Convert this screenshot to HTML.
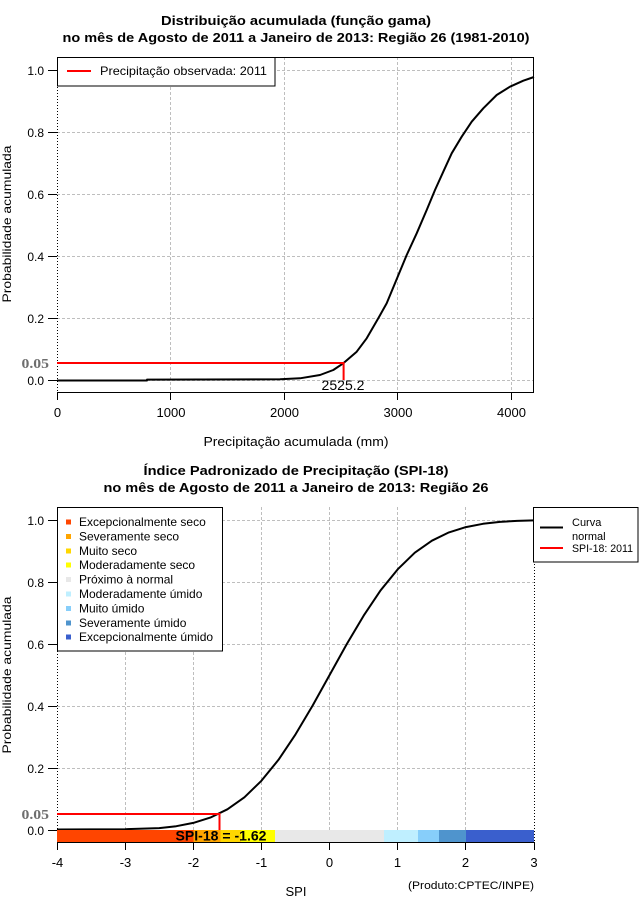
<!DOCTYPE html>
<html><head><meta charset="utf-8"><style>
html,body{margin:0;padding:0;background:#fff;}
svg{display:block;}
text{font-family:"Liberation Sans",sans-serif;fill:#000;}
</style></head><body>
<svg width="640" height="900" viewBox="0 0 640 900" xmlns="http://www.w3.org/2000/svg">
<rect x="0" y="0" width="640" height="900" fill="#fff"/>

<!-- ===== TOP CHART ===== -->
<text x="296" y="25" font-size="13" font-weight="bold" text-anchor="middle" textLength="270" lengthAdjust="spacingAndGlyphs">Distribuição acumulada (função gama)</text>
<text x="296" y="42" font-size="13" font-weight="bold" text-anchor="middle" textLength="467" lengthAdjust="spacingAndGlyphs">no mês de Agosto de 2011 a Janeiro de 2013: Região 26 (1981-2010)</text>

<g stroke="#bebebe" stroke-width="1" stroke-dasharray="3,2" shape-rendering="crispEdges" fill="none">
  <line x1="57" y1="70.5" x2="534" y2="70.5"/>
  <line x1="57" y1="132.5" x2="534" y2="132.5"/>
  <line x1="57" y1="194.5" x2="534" y2="194.5"/>
  <line x1="57" y1="256.5" x2="534" y2="256.5"/>
  <line x1="57" y1="318.5" x2="534" y2="318.5"/>
  <line x1="57" y1="380.5" x2="534" y2="380.5"/>
  <line x1="170.5" y1="57" x2="170.5" y2="392"/>
  <line x1="284.5" y1="57" x2="284.5" y2="392"/>
  <line x1="397.5" y1="57" x2="397.5" y2="392"/>
  <line x1="511.5" y1="57" x2="511.5" y2="392"/>
</g>
<line x1="57.5" y1="57" x2="57.5" y2="392" stroke="#000" stroke-width="1" stroke-dasharray="1,2" shape-rendering="crispEdges"/>
<g stroke="#000" stroke-width="1" shape-rendering="crispEdges" fill="none">
  <line x1="57" y1="57.5" x2="534" y2="57.5"/>
  <line x1="533.5" y1="57" x2="533.5" y2="392"/>
  <line x1="57" y1="392.5" x2="534" y2="392.5"/>
  <line x1="57.5" y1="392" x2="57.5" y2="400"/>
  <line x1="170.5" y1="392" x2="170.5" y2="400"/>
  <line x1="284.5" y1="392" x2="284.5" y2="400"/>
  <line x1="397.5" y1="392" x2="397.5" y2="400"/>
  <line x1="511.5" y1="392" x2="511.5" y2="400"/>
  <line x1="48" y1="70.5" x2="57" y2="70.5"/>
  <line x1="48" y1="132.5" x2="57" y2="132.5"/>
  <line x1="48" y1="194.5" x2="57" y2="194.5"/>
  <line x1="48" y1="256.5" x2="57" y2="256.5"/>
  <line x1="48" y1="318.5" x2="57" y2="318.5"/>
  <line x1="48" y1="380.5" x2="57" y2="380.5"/>
</g>
<g font-size="12" text-anchor="end">
  <text x="44" y="75">1.0</text>
  <text x="44" y="137">0.8</text>
  <text x="44" y="199">0.6</text>
  <text x="44" y="261">0.4</text>
  <text x="44" y="323">0.2</text>
  <text x="44" y="385">0.0</text>
</g>
<g font-size="13" text-anchor="middle">
  <text x="57.5" y="417">0</text>
  <text x="171" y="417">1000</text>
  <text x="284.5" y="417">2000</text>
  <text x="398" y="417">3000</text>
  <text x="511.5" y="417">4000</text>
</g>
<text x="296" y="446" font-size="13" text-anchor="middle" textLength="185" lengthAdjust="spacingAndGlyphs">Precipitação acumulada (mm)</text>
<text transform="translate(11,224) rotate(-90)" font-size="12" text-anchor="middle" textLength="157" lengthAdjust="spacingAndGlyphs">Probabilidade acumulada</text>

<polyline fill="none" stroke="#000" stroke-width="2" stroke-linejoin="round" points="57,380.5 147,380.5 147,379.6 280,379.3 300,378.3 320,375 333.3,370 343.3,363.3 356.7,351.7 366.7,338.3 378.3,318.3 386.7,303.3 395,283.3 406.7,255 416.7,233.3 426.7,210 435,190 443.3,171.7 451.7,153.3 461.7,136.7 471.7,121.7 483.3,108.3 496.7,95 510,86.7 523.3,80.7 534,77"/>
<polyline fill="none" stroke="#ff0000" stroke-width="2" points="57,363 343.6,363 343.6,380"/>
<text x="21.5" y="368" font-family="Liberation Serif" font-size="14" font-weight="bold" fill="#6e6e6e" style="font-family:'Liberation Serif',serif;fill:#6e6e6e" textLength="27.5" lengthAdjust="spacingAndGlyphs">0.05</text>
<text x="343" y="390" font-size="14" text-anchor="middle" textLength="43" lengthAdjust="spacingAndGlyphs">2525.2</text>

<rect x="57.5" y="57.5" width="217.5" height="28.5" fill="#fff" stroke="#000" stroke-width="1" shape-rendering="crispEdges"/>
<line x1="67" y1="71" x2="91" y2="71" stroke="#ff0000" stroke-width="2"/>
<text x="100" y="75" font-size="12" textLength="167" lengthAdjust="spacingAndGlyphs">Precipitação observada: 2011</text>

<!-- ===== BOTTOM CHART ===== -->
<text x="296" y="475" font-size="13" font-weight="bold" text-anchor="middle" textLength="305" lengthAdjust="spacingAndGlyphs">Índice Padronizado de Precipitação (SPI-18)</text>
<text x="296" y="492" font-size="13" font-weight="bold" text-anchor="middle" textLength="385" lengthAdjust="spacingAndGlyphs">no mês de Agosto de 2011 a Janeiro de 2013: Região 26</text>

<g stroke="#bebebe" stroke-width="1" stroke-dasharray="3,2" shape-rendering="crispEdges" fill="none">
  <line x1="57" y1="520.5" x2="534" y2="520.5"/>
  <line x1="57" y1="582.5" x2="534" y2="582.5"/>
  <line x1="57" y1="644.5" x2="534" y2="644.5"/>
  <line x1="57" y1="706.5" x2="534" y2="706.5"/>
  <line x1="57" y1="768.5" x2="534" y2="768.5"/>
  <line x1="57" y1="830.5" x2="534" y2="830.5"/>
  <line x1="125.5" y1="507" x2="125.5" y2="842"/>
  <line x1="193.5" y1="507" x2="193.5" y2="842"/>
  <line x1="261.5" y1="507" x2="261.5" y2="842"/>
  <line x1="329.5" y1="507" x2="329.5" y2="842"/>
  <line x1="397.5" y1="507" x2="397.5" y2="842"/>
  <line x1="465.5" y1="507" x2="465.5" y2="842"/>
</g>
<g stroke="#000" stroke-width="1" stroke-dasharray="1,2" shape-rendering="crispEdges">
  <line x1="57.5" y1="507" x2="57.5" y2="842"/>
  <line x1="534.5" y1="507" x2="534.5" y2="842"/>
</g>

<polyline fill="none" stroke="#000" stroke-width="2" stroke-linejoin="round" points="57,829.5 91.1,829.4 125.1,829.2 159.2,828.1 176.3,826.2 193.3,822.9 210.3,817.6 227.4,809.3 244.4,797.3 261.4,780.8 278.5,759.8 295.5,734.4 312.6,705.6 329.6,675 346.6,644.4 363.7,615.6 380.7,590.2 397.8,569.2 414.8,552.7 431.9,540.7 448.9,532.4 465.9,527.1 483,523.8 500,521.9 517,520.9 534,520.4"/>

<g shape-rendering="crispEdges">
  <rect x="57" y="830" width="136.3" height="12" fill="#ff4500"/>
  <rect x="193.3" y="830" width="27.3" height="12" fill="#ffa500"/>
  <rect x="220.6" y="830" width="20.4" height="12" fill="#ffd700"/>
  <rect x="241" y="830" width="34" height="12" fill="#ffff00"/>
  <rect x="275" y="830" width="109" height="12" fill="#e8e8e8"/>
  <rect x="384" y="830" width="34" height="12" fill="#bfefff"/>
  <rect x="418" y="830" width="21" height="12" fill="#87cefa"/>
  <rect x="439" y="830" width="27" height="12" fill="#4f94cd"/>
  <rect x="466" y="830" width="68" height="12" fill="#3a5fcd"/>
</g>

<polyline fill="none" stroke="#ff0000" stroke-width="2" points="57,814 219.5,814 219.5,830"/>

<g stroke="#000" stroke-width="1" shape-rendering="crispEdges" fill="none">
  <line x1="57" y1="842.5" x2="535" y2="842.5"/>
  <line x1="57.5" y1="842" x2="57.5" y2="850"/>
  <line x1="125.5" y1="842" x2="125.5" y2="850"/>
  <line x1="193.5" y1="842" x2="193.5" y2="850"/>
  <line x1="261.5" y1="842" x2="261.5" y2="850"/>
  <line x1="329.5" y1="842" x2="329.5" y2="850"/>
  <line x1="397.5" y1="842" x2="397.5" y2="850"/>
  <line x1="465.5" y1="842" x2="465.5" y2="850"/>
  <line x1="534.5" y1="842" x2="534.5" y2="850"/>
  <line x1="48" y1="520.5" x2="57" y2="520.5"/>
  <line x1="48" y1="582.5" x2="57" y2="582.5"/>
  <line x1="48" y1="644.5" x2="57" y2="644.5"/>
  <line x1="48" y1="706.5" x2="57" y2="706.5"/>
  <line x1="48" y1="768.5" x2="57" y2="768.5"/>
  <line x1="48" y1="830.5" x2="57" y2="830.5"/>
</g>
<g font-size="12" text-anchor="end">
  <text x="44" y="525">1.0</text>
  <text x="44" y="587">0.8</text>
  <text x="44" y="649">0.6</text>
  <text x="44" y="711">0.4</text>
  <text x="44" y="773">0.2</text>
  <text x="44" y="835">0.0</text>
</g>
<g font-size="13" text-anchor="middle">
  <text x="57.5" y="867">-4</text>
  <text x="125.5" y="867">-3</text>
  <text x="193.5" y="867">-2</text>
  <text x="261.5" y="867">-1</text>
  <text x="329.5" y="867">0</text>
  <text x="397.5" y="867">1</text>
  <text x="465.5" y="867">2</text>
  <text x="534" y="867">3</text>
</g>
<text x="296" y="896" font-size="13" text-anchor="middle">SPI</text>
<text x="534" y="889" font-size="11" text-anchor="end" textLength="126" lengthAdjust="spacingAndGlyphs">(Produto:CPTEC/INPE)</text>
<text transform="translate(11,675) rotate(-90)" font-size="12" text-anchor="middle" textLength="157" lengthAdjust="spacingAndGlyphs">Probabilidade acumulada</text>

<text x="21.5" y="819" font-size="14" font-weight="bold" style="font-family:'Liberation Serif',serif;fill:#6e6e6e" textLength="27.5" lengthAdjust="spacingAndGlyphs">0.05</text>
<text x="221" y="840.5" font-size="14" font-weight="bold" text-anchor="middle" textLength="91" lengthAdjust="spacingAndGlyphs">SPI-18 = -1.62</text>

<!-- left legend -->
<rect x="57.5" y="507.5" width="165" height="143.5" fill="#fff" stroke="#000" stroke-width="1" shape-rendering="crispEdges"/>
<g shape-rendering="crispEdges">
  <rect x="66" y="519.5" width="5" height="5" fill="#ff4500"/>
  <rect x="66" y="533.9" width="5" height="5" fill="#ffa500"/>
  <rect x="66" y="548.3" width="5" height="5" fill="#ffd700"/>
  <rect x="66" y="562.7" width="5" height="5" fill="#ffff00"/>
  <rect x="66" y="577.1" width="5" height="5" fill="#e8e8e8"/>
  <rect x="66" y="591.5" width="5" height="5" fill="#bfefff"/>
  <rect x="66" y="605.9" width="5" height="5" fill="#87cefa"/>
  <rect x="66" y="620.3" width="5" height="5" fill="#4f94cd"/>
  <rect x="66" y="634.7" width="5" height="5" fill="#3a5fcd"/>
</g>
<g font-size="12">
  <text x="79" y="526">Excepcionalmente seco</text>
  <text x="79" y="540.4">Severamente seco</text>
  <text x="79" y="554.8">Muito seco</text>
  <text x="79" y="569.2">Moderadamente seco</text>
  <text x="79" y="583.6">Próximo à normal</text>
  <text x="79" y="598">Moderadamente úmido</text>
  <text x="79" y="612.4">Muito úmido</text>
  <text x="79" y="626.8">Severamente úmido</text>
  <text x="79" y="641.2">Excepcionalmente úmido</text>
</g>

<!-- right legend -->
<rect x="533.5" y="507.5" width="104.5" height="54.5" fill="#fff" stroke="#000" stroke-width="1" shape-rendering="crispEdges"/>
<line x1="540" y1="527.5" x2="563" y2="527.5" stroke="#000" stroke-width="2"/>
<line x1="540" y1="548" x2="563" y2="548" stroke="#ff0000" stroke-width="2"/>
<g font-size="11">
  <text x="572" y="526">Curva</text>
  <text x="572" y="540">normal</text>
  <text x="572" y="552" textLength="61" lengthAdjust="spacingAndGlyphs">SPI-18: 2011</text>
</g>
</svg>
</body></html>
